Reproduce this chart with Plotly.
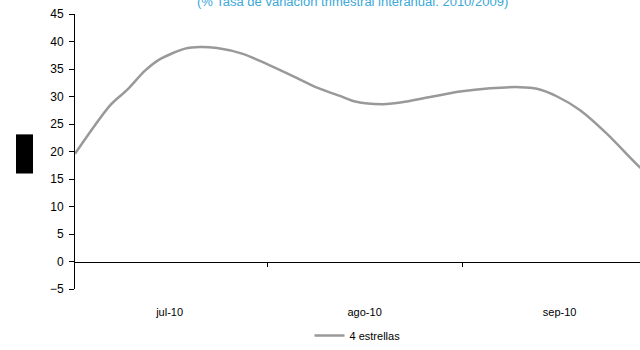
import plotly.graph_objects as go

# Data (x in months from 1 jul-10)
month_labels = ["jul-10", "ago-10", "sep-10"]
label_pos = [0.5, 1.5, 2.5]
month_bounds = [1, 2]
x_vals = [0.015, 0.195, 0.282, 0.374, 0.451, 0.579, 0.656, 0.743, 0.871, 1.0,
          1.133, 1.256, 1.374, 1.451, 1.594, 1.718, 1.836, 1.989, 2.143, 2.297,
          2.384, 2.487, 2.605, 2.743, 2.912, 3.0]
y_vals = [19.6, 28.4, 31.2, 34.7, 36.8, 38.7, 39.0, 38.8, 37.8, 35.9,
          33.7, 31.6, 30.1, 29.1, 28.6, 29.1, 29.9, 30.9, 31.5, 31.7,
          31.4, 30.0, 27.5, 23.2, 17.1, 14.4]
series_name = "4 estrellas"
subtitle = "(% Tasa de variación trimestral interanual. 2010/2009)"

FONT = "Liberation Sans, Arial, sans-serif"
y_min, y_max = -5, 45

fig = go.Figure()
fig.add_trace(go.Scatter(
    x=x_vals, y=y_vals, mode="lines", name=series_name,
    line=dict(color="#999999", width=2.5, shape="spline", smoothing=0.8),
    showlegend=True,
))

fig.update_layout(
    width=640, height=350,
    margin=dict(l=75, r=0, t=14, b=55),
    paper_bgcolor="white", plot_bgcolor="white",
    font=dict(family=FONT, size=11, color="black"),
    showlegend=True,
    legend=dict(orientation="h", x=0.5, xanchor="center", y=-0.171, yanchor="middle",
                font=dict(size=11, color="black"), itemwidth=30,
                bgcolor="rgba(0,0,0,0)"),
    xaxis=dict(
        range=[0.015, 2.912], anchor="free", position=(0 - y_min) / (y_max - y_min),
        showline=True, linecolor="black", linewidth=1,
        showgrid=False, zeroline=False,
        tickmode="array", tickvals=label_pos, ticktext=month_labels,
        ticks="", ticklabelstandoff=40,
        tickfont=dict(size=11, color="black"),
        minor=dict(tickmode="array", tickvals=month_bounds, ticks="outside",
                   ticklen=4, tickcolor="black", tickwidth=1, showgrid=False),
    ),
    yaxis=dict(
        range=[y_min, y_max], dtick=5, tick0=0,
        showline=True, linecolor="black", linewidth=1,
        ticks="outside", ticklen=5, tickcolor="black", ticklabelstandoff=3,
        showgrid=False, zeroline=False,
        tickfont=dict(size=12, color="black"),
    ),
)

fig.add_annotation(
    text=subtitle, xref="paper", yref="paper", x=0.492, y=1, yshift=13,
    xanchor="center", yanchor="middle", showarrow=False,
    font=dict(family=FONT, size=13, color="#3aa8d8"),
)

fig.add_shape(type="rect", xref="paper", yref="paper",
              x0=(16 - 75) / 565, x1=(33 - 75) / 565,
              y0=(295 - 177) / 281, y1=(295 - 137) / 281,
              fillcolor="black", line=dict(width=0))

fig.write_html("out.html",
               config={"displayModeBar": False},
               post_script="document.body.style.margin='0px';"
                           "document.body.style.overflow='hidden';")
